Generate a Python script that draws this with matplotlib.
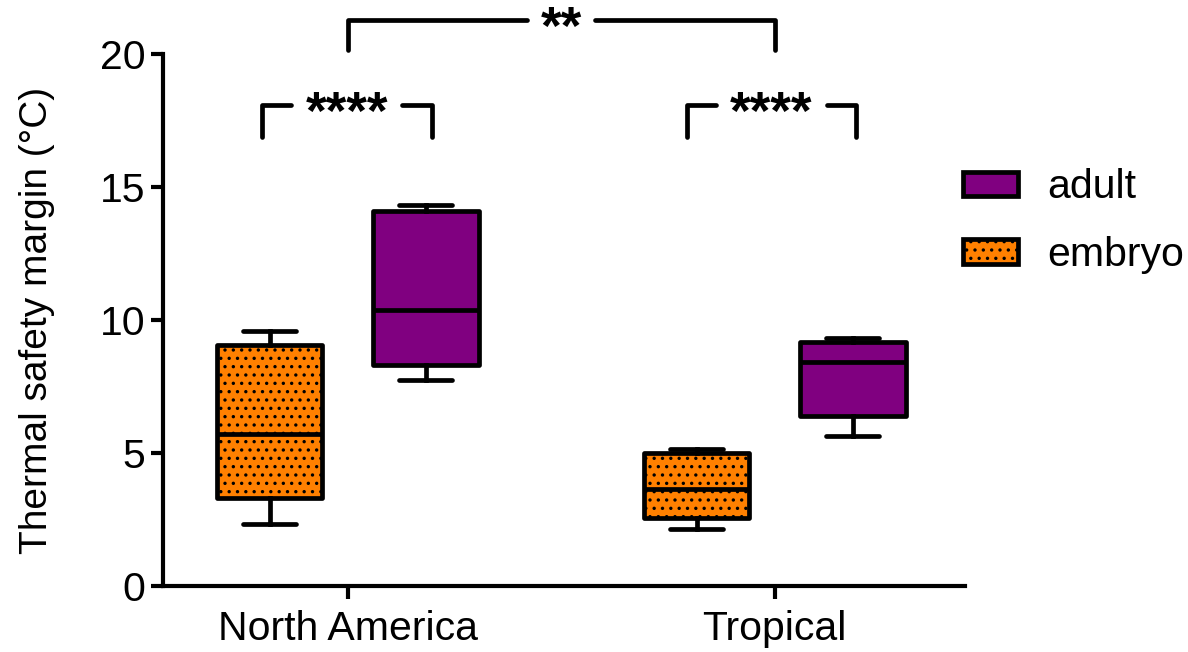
import matplotlib
matplotlib.use("Agg")
import matplotlib.pyplot as plt
from matplotlib.patches import Patch

plt.rcParams['font.family'] = ['Liberation Sans', 'DejaVu Sans']
plt.rcParams['hatch.linewidth'] = 1.2
plt.rcParams['hatch.color'] = 'black'

groups = ['North America', 'Tropical']
colors = {'embryo': '#ff8000', 'adult': '#800080'}
hatches = {'embryo': '..', 'adult': None}

# box summaries: whisker low, Q1, median, Q3, whisker high
embryo_stats = [(2.33, 3.31, 5.71, 9.06, 9.59), (2.14, 2.56, 3.65, 5.00, 5.15)]
adult_stats = [(7.74, 8.31, 10.38, 14.10, 14.32), (5.64, 6.39, 8.42, 9.17, 9.32)]

offset = 0.183
width = 0.248

fig = plt.figure(figsize=(11.88, 6.52), dpi=100)
ax = fig.add_axes([0.137, 0.101, 0.675, 0.816])

lw = 3.4
for stage, stats, sign in [('embryo', embryo_stats, -1), ('adult', adult_stats, 1)]:
    bstats = []
    for lo, q1, med, q3, hi in stats:
        bstats.append(dict(whislo=lo, q1=q1, med=med, q3=q3, whishi=hi, fliers=[]))
    pos = [i + sign * offset for i in range(len(groups))]
    bp = ax.bxp(bstats, positions=pos, widths=width, patch_artist=True,
                showfliers=False, capwidths=0.125,
                boxprops=dict(linewidth=lw, edgecolor='black'),
                medianprops=dict(color='black', linewidth=lw),
                whiskerprops=dict(color='black', linewidth=lw),
                capprops=dict(color='black', linewidth=lw, solid_capstyle='round'))
    for b in bp['boxes']:
        b.set_facecolor(colors[stage])
        if hatches[stage]:
            b.set_hatch(hatches[stage])
        b.set_joinstyle('round')

ax.set_xlim(-0.433, 1.445)
ax.set_ylim(0, 20)
ax.set_yticks([0, 5, 10, 15, 20])
ax.set_xticks(range(len(groups)))
ax.set_xticklabels(groups)
ax.tick_params(axis='both', labelsize=29.5, width=3, length=9, direction='out')
ax.tick_params(axis='x', pad=8)
ax.set_ylabel('Thermal safety margin (°C)', fontsize=28, labelpad=32)

for side in ['top', 'right']:
    ax.spines[side].set_visible(False)
for side in ['left', 'bottom']:
    ax.spines[side].set_linewidth(3)


def bracket(x0, x1, y_top, y_bot, label, gap):
    xm = (x0 + x1) / 2
    kw = dict(color='black', linewidth=lw, clip_on=False,
              solid_capstyle='round', solid_joinstyle='round')
    ax.plot([x0, x0, xm - gap], [y_bot, y_top, y_top], **kw)
    ax.plot([xm + gap, x1, x1], [y_top, y_top, y_bot], **kw)
    ax.text(xm, y_top - 0.36, label, ha='center', va='center', fontsize=38,
            fontweight='bold', clip_on=False)


bracket(-0.201, 0.197, 18.08, 16.88, '****', 0.13)
bracket(0.794, 1.19, 18.08, 16.88, '****', 0.13)
bracket(0.0, 1.0, 21.28, 20.15, '**', 0.08)

handles = [Patch(facecolor=colors[s], edgecolor='black', linewidth=3.4,
                 hatch=hatches[s], label=s) for s in ['adult', 'embryo']]
ax.legend(handles=handles, loc='center left', bbox_to_anchor=(0.998, 0.686),
          frameon=False, fontsize=29.5, handlelength=1.35, handleheight=0.55,
          labelspacing=0.72, handletextpad=0.7, borderaxespad=0, borderpad=0)

fig.savefig('out.png', dpi=100)
